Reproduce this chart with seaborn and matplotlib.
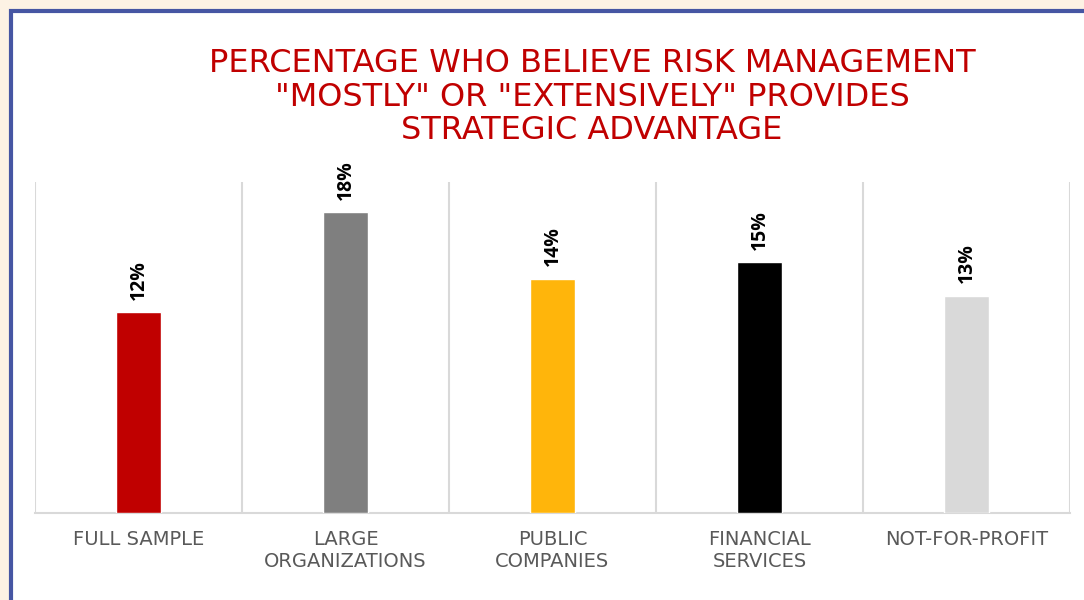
import matplotlib
matplotlib.use("Agg")
import matplotlib.pyplot as plt
import seaborn as sns
import pandas as pd
from matplotlib.patches import Rectangle

categories = ["FULL SAMPLE", "LARGE\nORGANIZATIONS", "PUBLIC\nCOMPANIES",
              "FINANCIAL\nSERVICES", "NOT-FOR-PROFIT"]
values = [12, 18, 14, 15, 13]
bar_colors = ["#c00000", "#7f7f7f", "#ffb50b", "#000000", "#d9d9d9"]
title = 'PERCENTAGE WHO BELIEVE RISK MANAGEMENT\n"MOSTLY" OR "EXTENSIVELY" PROVIDES\nSTRATEGIC ADVANTAGE'

sns.set_theme(style="white")
plt.rcParams['font.family'] = ['Liberation Sans', 'DejaVu Sans']

W, H = 1084, 600
fig = plt.figure(figsize=(W / 100, H / 100), dpi=100)
fig.patch.set_facecolor("#fdf2e4")

# white panel with blue border
panel = Rectangle((11 / W, -0.1), 1.2, 1 - 11 / H + 0.1, transform=fig.transFigure,
                  facecolor="white", edgecolor="#4656a3", linewidth=3, zorder=-10)
fig.patches.append(panel)

ax = fig.add_axes([35 / W, 87 / H, (1070 - 35) / W, (513 - 182) / H])
ax.set_facecolor("none")

df = pd.DataFrame({"cat": categories, "val": values})
sns.barplot(data=df, x="cat", y="val", hue="cat", palette=bar_colors, legend=False,
            width=0.215, ax=ax, saturation=1, zorder=3)

ax.set_ylim(0, 19.8)
ax.set_xlim(-0.5, len(categories) - 0.5)
ax.set_yticks([])
ax.set_xlabel("")
ax.set_ylabel("")

# vertical separators
for b in [i - 0.5 for i in range(len(categories) + 1)]:
    ax.axvline(b, color="#d9d9d9", lw=1.5, zorder=1)

for s in ["top", "left", "right"]:
    ax.spines[s].set_visible(False)
ax.spines["bottom"].set_color("#d9d9d9")
ax.spines["bottom"].set_linewidth(1.5)

ax.tick_params(axis="x", length=0, pad=12)
for lbl in ax.get_xticklabels():
    lbl.set_fontfamily(["DejaVu Sans"])
    lbl.set_fontsize(14)
    lbl.set_color("#595959")
    lbl.set_linespacing(1.2)

for cont in ax.containers:
    ax.bar_label(cont, labels=[f"{v:g}%" for v in cont.datavalues], rotation=90,
                 padding=9, fontsize=14, fontweight="bold", color="black",
                 fontfamily=["Open Sans", "DejaVu Sans"])

fig.text(592 / W, 1 - 97 / H, title, ha="center", va="center", color="#c00000",
         fontsize=23, linespacing=1.12, fontfamily=["DejaVu Sans"])

fig.savefig("out.png", dpi=100, facecolor=fig.get_facecolor())
